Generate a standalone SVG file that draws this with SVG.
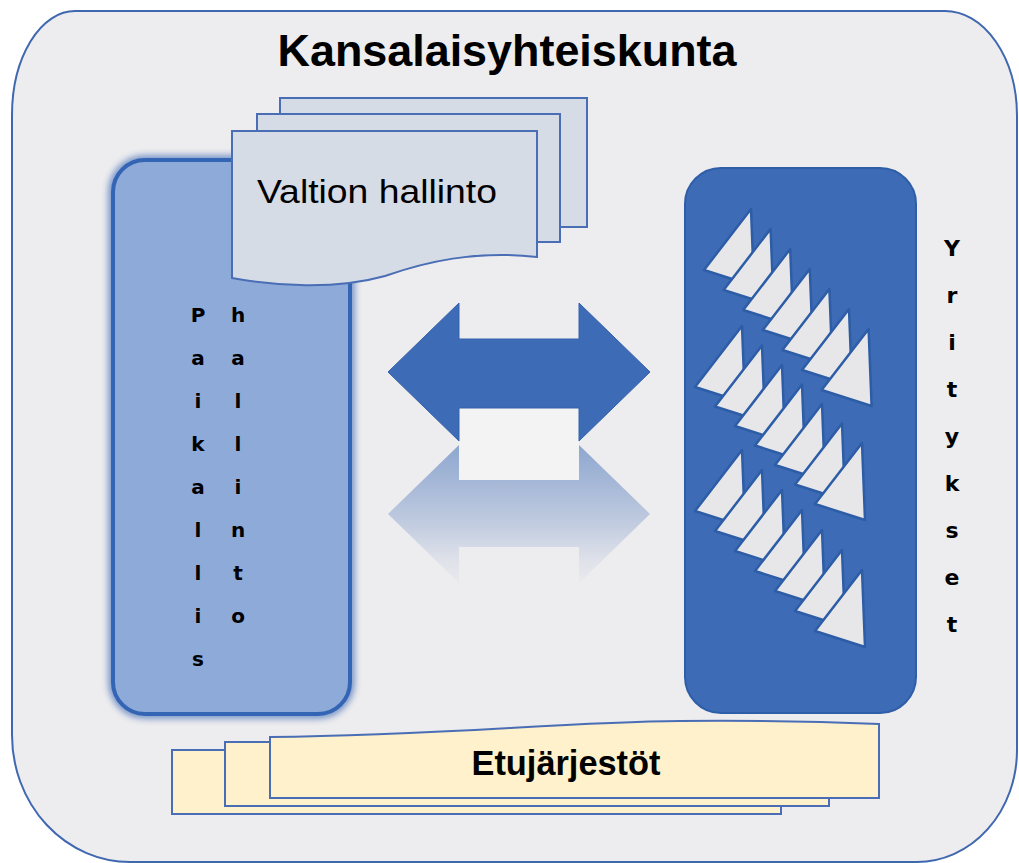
<svg xmlns="http://www.w3.org/2000/svg" width="1019" height="863" viewBox="0 0 1019 863">
<defs>
<style>
.lbl{font-family:"Liberation Sans",Arial,sans-serif;fill:#000}
.vb{font-family:"DejaVu Sans","Liberation Sans",sans-serif;font-weight:bold;fill:#000;text-anchor:middle}
.page{fill:#d6dce6;stroke:#4a6eb5;stroke-width:2}
.yel{fill:#fff1cb;stroke:#4a6eb5;stroke-width:2}
.tri{fill:#e7e7e9;stroke:#2d5da6;stroke-width:2.5;stroke-linejoin:round}
</style>
<path id="tri" d="M0,0 L3,77 L-47,61 Z"/>
<filter id="glow" x="-10%" y="-10%" width="120%" height="120%"><feGaussianBlur stdDeviation="3"/></filter>
<linearGradient id="refl" x1="0" y1="443" x2="0" y2="590" gradientUnits="userSpaceOnUse">
<stop offset="0" stop-color="#3d6bb5" stop-opacity="0.55"/>
<stop offset="0.5" stop-color="#3d6bb5" stop-opacity="0.28"/>
<stop offset="0.8" stop-color="#3d6bb5" stop-opacity="0.08"/>
<stop offset="1" stop-color="#3d6bb5" stop-opacity="0"/>
</linearGradient>
</defs>
<rect width="1019" height="863" fill="#ffffff"/>
<g id="kansalaisyhteiskunta">
<path d="M75,11 H945 A72,105 0 0 1 1017,116 V750 A100,112 0 0 1 917,862 H130 A118,127 0 0 1 12,735 V115 A63,104 0 0 1 75,11 Z" fill="#edecee" stroke="#3f68b0" stroke-width="2"/>
<text class="lbl" x="507" y="66" font-size="44" font-weight="bold" text-anchor="middle" textLength="459" lengthAdjust="spacingAndGlyphs">Kansalaisyhteiskunta</text>
</g>
<g id="paikallishallinto">
<rect x="113" y="160" width="237" height="554" rx="32" fill="none" stroke="#2f5fb0" stroke-width="10" opacity="0.6" filter="url(#glow)"/>
<rect x="113" y="160" width="237" height="554" rx="32" fill="#8eaad9" stroke="#3464b4" stroke-width="4"/>
<g class="vb" font-size="20">
<text x="198" y="322">P</text><text x="198" y="365">a</text><text x="198" y="408">i</text><text x="198" y="451">k</text><text x="198" y="494">a</text><text x="198" y="537">l</text><text x="198" y="580">l</text><text x="198" y="623">i</text><text x="198" y="666">s</text>
<text x="238" y="322">h</text><text x="238" y="365">a</text><text x="238" y="408">l</text><text x="238" y="451">l</text><text x="238" y="494">i</text><text x="238" y="537">n</text><text x="238" y="580">t</text><text x="238" y="623">o</text>
</g>
</g>
<g id="valtionhallinto">
<rect class="page" x="280" y="98" width="307" height="129"/>
<rect class="page" x="257" y="114" width="303" height="128"/>
<path class="page" d="M232,131 H537 V257 C475,250 425,262 385,276 C335,290 275,286 232,278 Z"/>
<text class="lbl" x="257" y="203" font-size="34" textLength="240" lengthAdjust="spacingAndGlyphs">Valtion hallinto</text>
</g>
<g id="yritykset">
<rect x="685" y="168" width="231" height="545" rx="36" fill="#3d6bb5" stroke="#2f5ea8" stroke-width="2"/>
<g id="row1">
<use href="#tri" class="tri" x="751" y="209"/><use href="#tri" class="tri" x="770.6" y="229"/><use href="#tri" class="tri" x="790.2" y="249"/><use href="#tri" class="tri" x="809.8" y="269"/><use href="#tri" class="tri" x="829.4" y="289"/><use href="#tri" class="tri" x="849" y="309"/><use href="#tri" class="tri" x="868.6" y="329"/>
</g>
<g id="row2">
<use href="#tri" class="tri" x="742" y="326"/><use href="#tri" class="tri" x="762" y="345.5"/><use href="#tri" class="tri" x="782" y="365"/><use href="#tri" class="tri" x="802" y="384.5"/><use href="#tri" class="tri" x="822" y="404"/><use href="#tri" class="tri" x="842" y="423.5"/><use href="#tri" class="tri" x="862" y="443"/>
</g>
<g id="row3">
<use href="#tri" class="tri" x="742" y="450"/><use href="#tri" class="tri" x="762" y="470"/><use href="#tri" class="tri" x="782" y="490"/><use href="#tri" class="tri" x="802" y="510"/><use href="#tri" class="tri" x="822" y="530"/><use href="#tri" class="tri" x="842" y="550"/><use href="#tri" class="tri" x="862" y="570"/>
</g>
<g class="vb" font-size="22">
<text x="952" y="256">Y</text><text x="952" y="303">r</text><text x="952" y="350">i</text><text x="952" y="397">t</text><text x="952" y="444">y</text><text x="952" y="491">k</text><text x="952" y="538">s</text><text x="952" y="585">e</text><text x="952" y="632">t</text>
</g>
</g>
<g id="etujarjestot">
<rect class="yel" x="172" y="750" width="609" height="64"/>
<rect class="yel" x="225" y="742" width="604" height="64"/>
<path class="yel" d="M270,737 C450,735 560,722 680,721 C780,720 830,722 879,724 V798 H270 Z"/>
<text class="lbl" x="566" y="775" font-size="35" font-weight="bold" text-anchor="middle" textLength="189" lengthAdjust="spacingAndGlyphs">Etujärjestöt</text>
</g>
<g id="connectors">
<path d="M388,514 L459,583 V547 H579 V583 L650,514 L579,445 V478 H459 V445 Z" fill="url(#refl)"/>
<rect x="459" y="408" width="120" height="72" fill="#f3f3f4"/>
<path d="M388,372 L459,303 V339 H579 V303 L650,372 L579,441 V408 H459 V441 Z" fill="#3d6bb5" stroke="#3462ad" stroke-width="1"/>
</g>
</svg>
